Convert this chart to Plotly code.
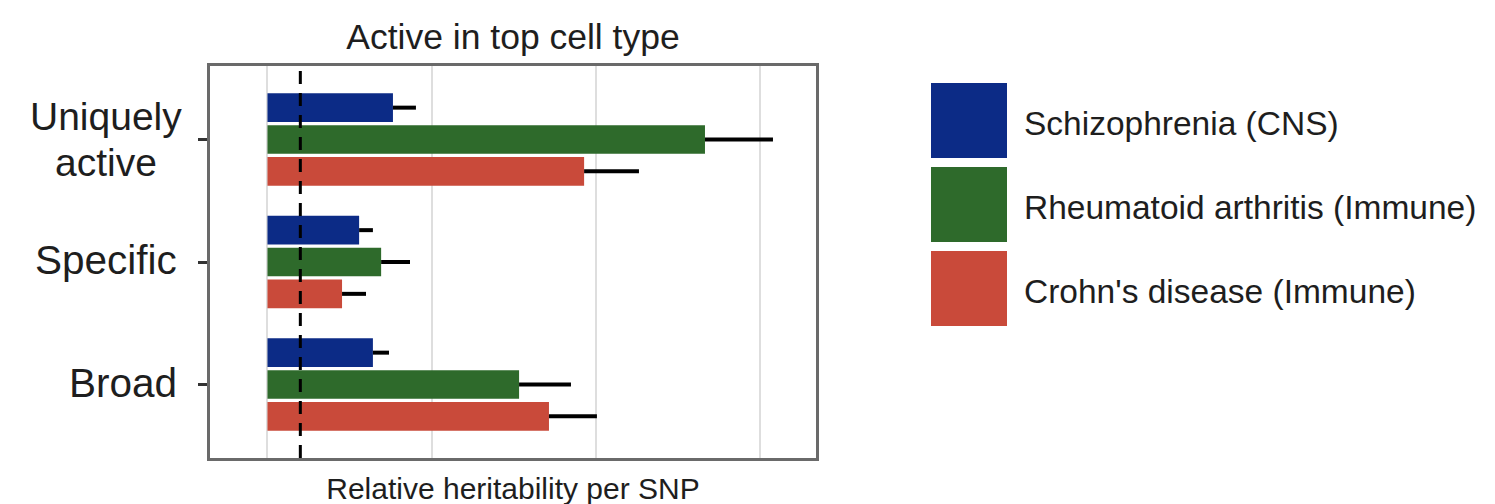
import plotly.graph_objects as go

# ---- data ----
categories = ["Uniquely active", "Specific", "Broad"]

series_names = ["Schizophrenia (CNS)", "Rheumatoid arthritis (Immune)", "Crohn's disease (Immune)"]
series_colors = ["#0c2b86", "#2e6a2b", "#c94a3a"]

schizophrenia = [3.82, 2.79, 3.21]
schizophrenia_err = [0.70, 0.42, 0.49]
rheumatoid = [13.32, 3.46, 7.66]
rheumatoid_err = [2.07, 0.88, 1.58]
crohns = [9.64, 2.27, 8.57]
crohns_err = [1.67, 0.73, 1.46]

baseline = 1.0
x_gridlines = [0, 5, 10, 15]

title_text = "Active in top cell type"
x_title = "Relative heritability per SNP"

FONT = "Liberation Sans, Arial, Helvetica, sans-serif"
TXT = "#1e1e1e"

values = [schizophrenia, rheumatoid, crohns]
errors = [schizophrenia_err, rheumatoid_err, crohns_err]

fig = go.Figure()
# add bottom-most bar first so Schizophrenia ends up on top of each group
for i in [2, 1, 0]:
    fig.add_trace(go.Bar(
        y=categories, x=values[i], orientation="h", name=series_names[i],
        marker=dict(color=series_colors[i], line=dict(width=0)),
        error_x=dict(type="data", array=errors[i], arrayminus=[0] * len(errors[i]),
                     symmetric=False, color="black", thickness=4, width=0),
        showlegend=False,
    ))

# dashed reference line at relative heritability = 1
fig.add_shape(type="line", xref="x", yref="paper", x0=baseline, x1=baseline, y0=0, y1=1,
              line=dict(color="black", width=3, dash="13px,9px"), layer="above")

W, H = 1495, 504
L, R, T, B = 202, 808, 58, 450
pw, ph = R - L, B - T

def px_x(p):
    return (p - L) / pw

def px_y(p):
    return (B - p) / ph

LBL = 40.5
# category labels (centered two-line label like reference)
for word, shift in (("Uniquely", 23), ("active", -23)):
    fig.add_annotation(text=word, xref="paper", yref="y", x=px_x(98), y=categories[0],
                       xanchor="center", yanchor="middle", yshift=shift, showarrow=False,
                       font=dict(family=FONT, size=39, color=TXT))
for c in categories[1:]:
    fig.add_annotation(text=c, xref="paper", yref="y", x=0, y=c, xanchor="right",
                       yanchor="middle", xshift=-31, yshift=2, showarrow=False,
                       font=dict(family=FONT, size=LBL, color=TXT))

# legend with large keys
key_tops = [75, 159, 243]
for name, col, top in zip(series_names, series_colors, key_tops):
    fig.add_shape(type="rect", xref="paper", yref="paper",
                  x0=px_x(923), x1=px_x(999), y0=px_y(top + 75), y1=px_y(top),
                  fillcolor=col, line=dict(width=0))
    fig.add_annotation(text=name, xref="paper", yref="paper", x=px_x(1014),
                       y=px_y(top + 37.5), xanchor="left", yanchor="middle", yshift=-3,
                       showarrow=False, font=dict(family=FONT, size=33.5, color=TXT))

fig.update_layout(
    width=W, height=H,
    margin=dict(l=L, r=W - R, t=T, b=H - B, autoexpand=False),
    paper_bgcolor="white", plot_bgcolor="white",
    barmode="group", bargap=0.22, bargroupgap=0.1,
    showlegend=False,
    title=dict(text=title_text, x=0.5, xref="paper", xanchor="center",
               y=1 - 29 / H, yref="container", yanchor="middle",
               font=dict(family=FONT, size=35.5, color=TXT)),
    font=dict(family=FONT, color=TXT),
)

fig.update_xaxes(
    range=[-1.75, 16.7], tickvals=x_gridlines, showticklabels=False, ticks="",
    showgrid=True, gridcolor="#dedede", gridwidth=1.5, zeroline=False,
    showline=True, linecolor="#6a6a6a", linewidth=3, mirror=True,
    title=dict(text=x_title, standoff=18, font=dict(family=FONT, size=30, color=TXT)),
)
fig.update_yaxes(
    categoryorder="array", categoryarray=categories[::-1], range=[-0.6, 2.6],
    showticklabels=False, ticks="outside", ticklen=9, tickwidth=3, tickcolor="#333333",
    showgrid=False, zeroline=False,
    showline=True, linecolor="#6a6a6a", linewidth=3, mirror=True,
)

fig.write_html("out.html")
